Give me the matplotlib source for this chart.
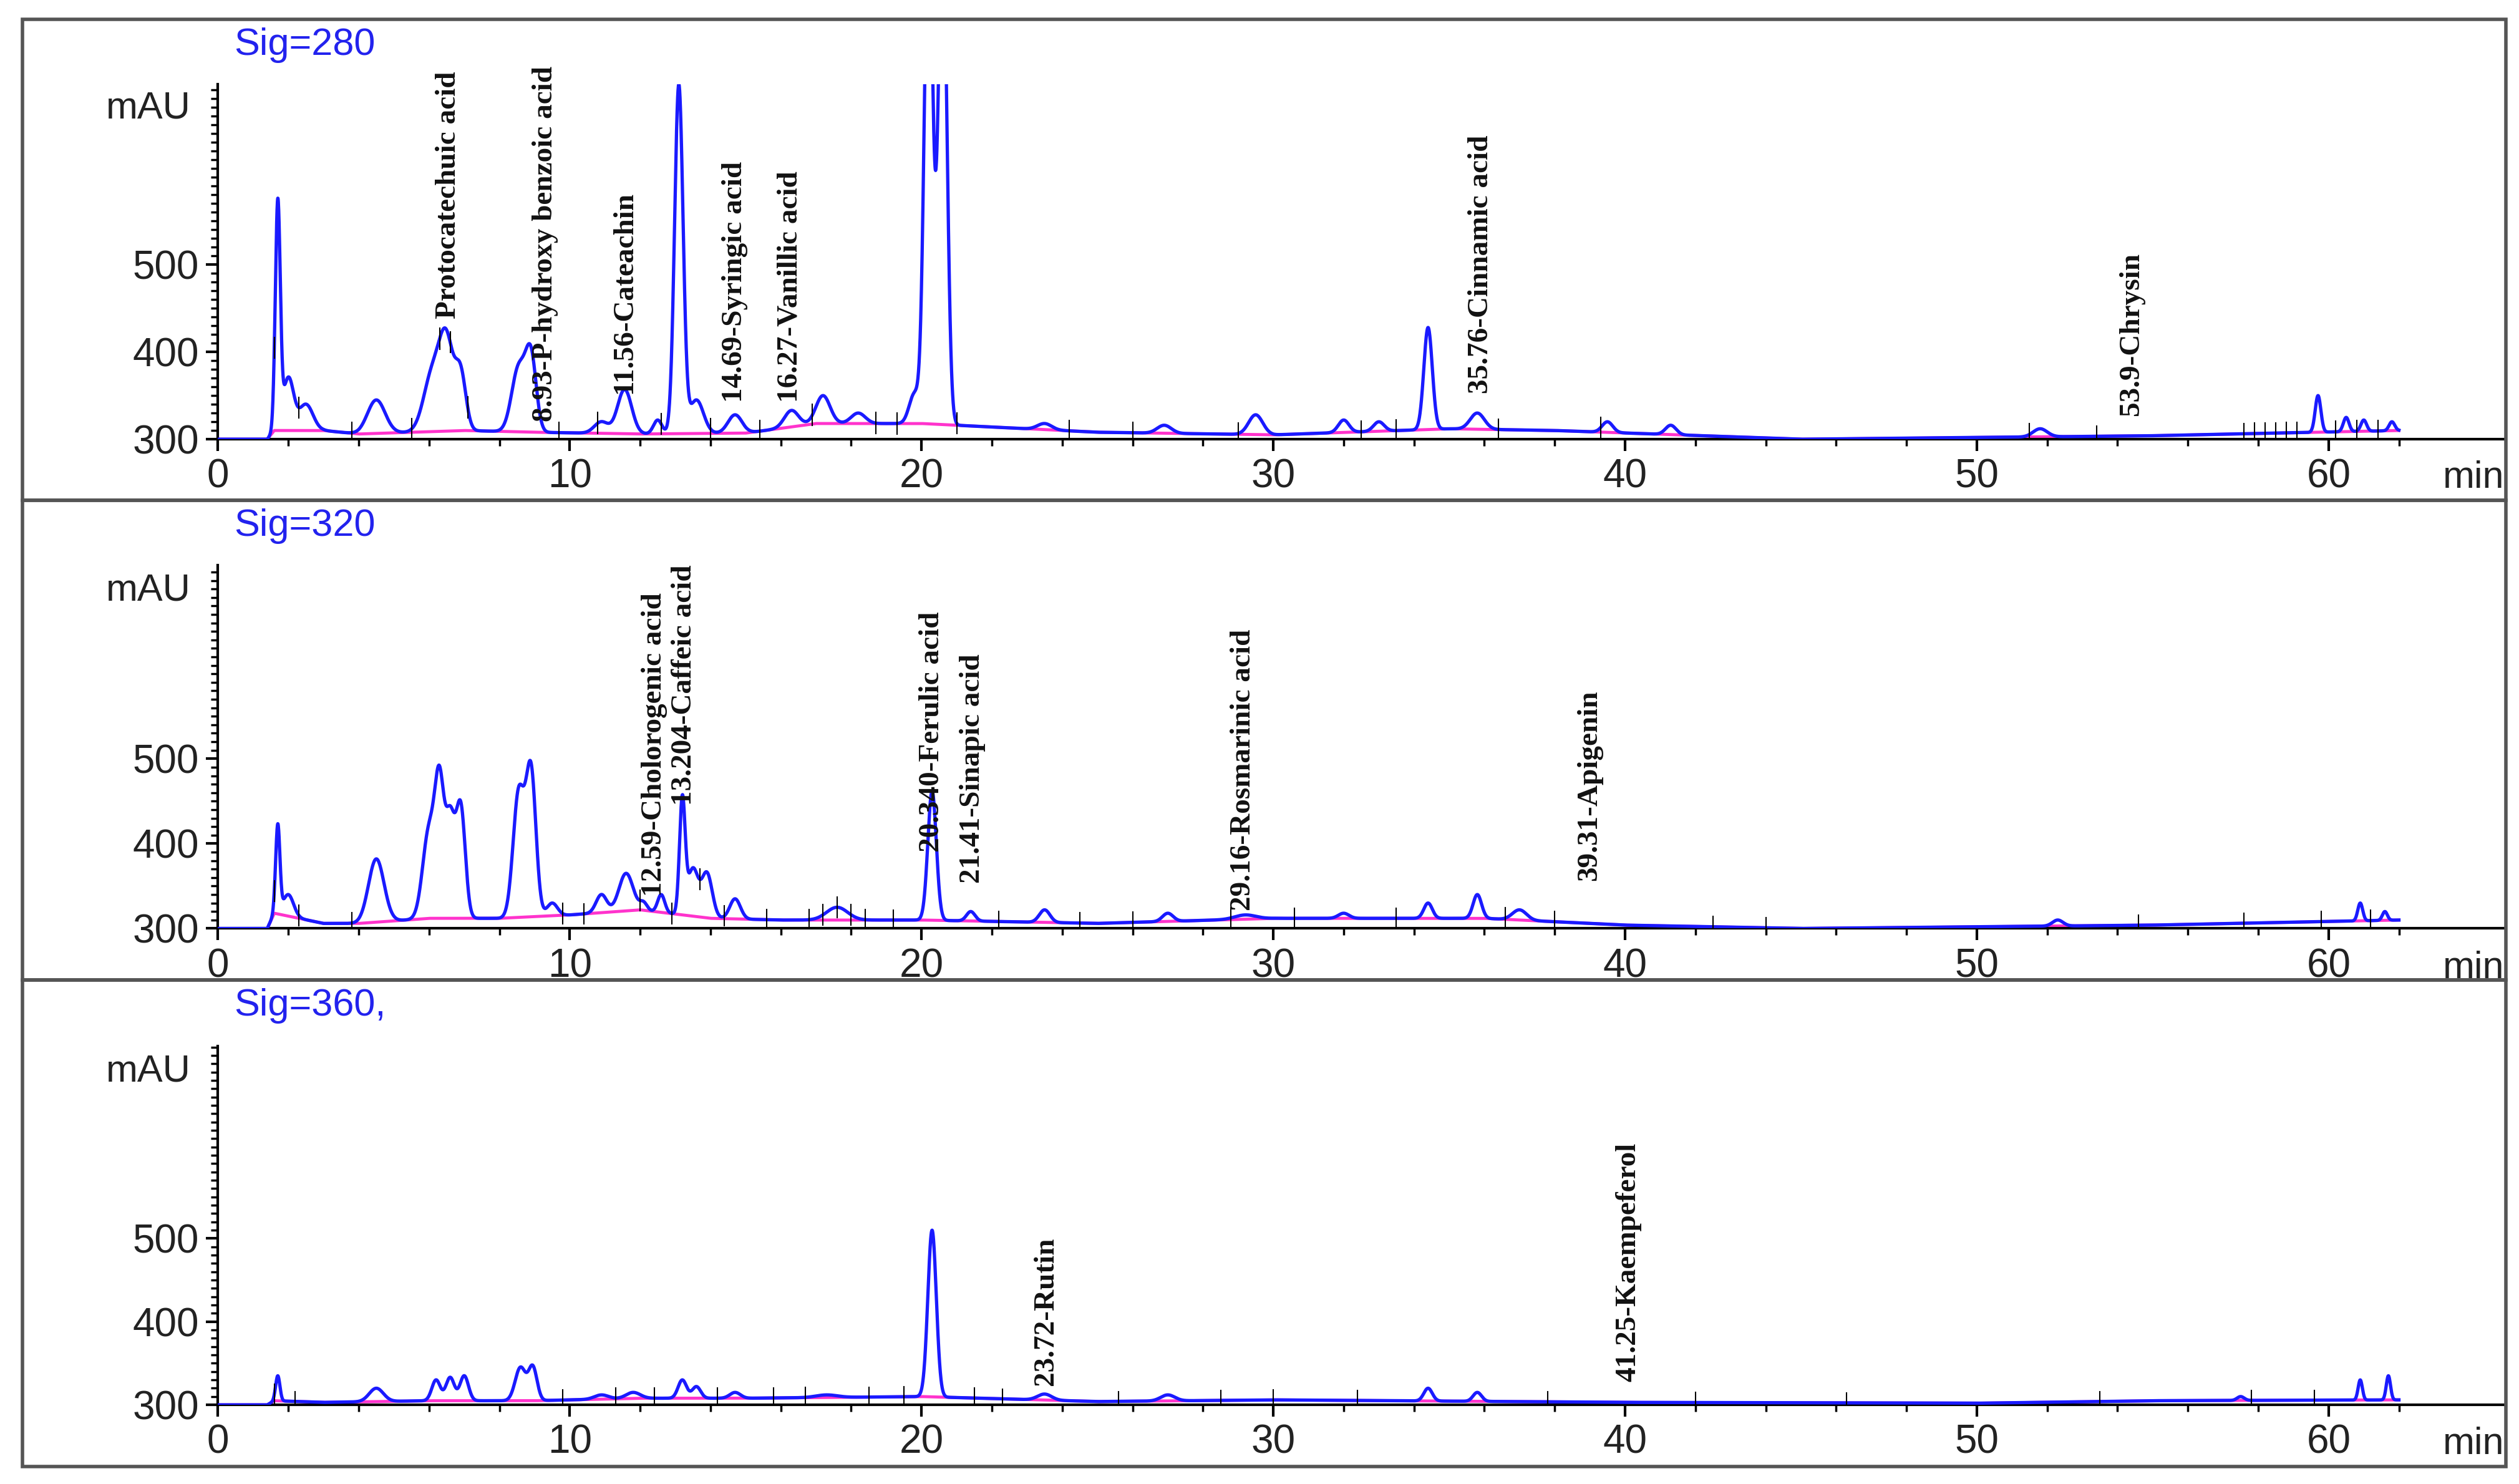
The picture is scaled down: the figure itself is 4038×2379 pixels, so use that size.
import numpy as np
import matplotlib
matplotlib.use("Agg")
import matplotlib.pyplot as plt
from matplotlib.ticker import MultipleLocator, FixedLocator

# ---------------- data ----------------
signals = ["Sig=280", "Sig=320", "Sig=360,"]

# peaks: retention time (min), apex (mAU), width (min)
p1_rt = [1.7, 2.0, 2.5, 4.5, 6.1, 6.5, 6.9, 8.55, 8.9, 10.9, 11.56, 12.5, 13.1, 13.6, 14.7, 16.3, 17.2, 18.2, 19.8, 20.2, 20.6, 23.5, 26.9, 29.5, 32.0, 33.0, 34.4, 35.8, 39.5, 41.3, 51.8, 59.7, 60.5, 61.0, 61.8]
p1_h  = [568, 370, 340, 345, 375, 405, 372, 382, 390, 320, 357, 322, 705, 345, 328, 333, 350, 330, 352, 900, 900, 318, 316, 328, 322, 320, 428, 330, 320, 316, 312, 350, 325, 322, 320]
p1_w  = [0.07, 0.15, 0.2, 0.25, 0.25, 0.2, 0.15, 0.2, 0.15, 0.2, 0.2, 0.12, 0.12, 0.2, 0.2, 0.2, 0.2, 0.2, 0.15, 0.12, 0.12, 0.2, 0.2, 0.2, 0.15, 0.15, 0.12, 0.2, 0.15, 0.15, 0.2, 0.08, 0.08, 0.08, 0.08]
p1_base_t = [0, 1.4, 1.6, 3, 4, 7, 9, 12, 15, 17, 20, 25, 30, 35, 38, 45, 50, 55, 62]
p1_base_v = [300, 300, 310, 310, 306, 310, 308, 306, 307, 318, 318, 308, 305, 312, 310, 300, 302, 304, 310]
p1_marks = [1.6, 2.3, 3.8, 5.5, 6.3, 6.6, 7.1, 9.7, 10.8, 12.6, 14.0, 15.4, 16.9, 18.7, 19.3, 21.0, 24.2, 26.0, 29.0, 32.5, 33.5, 36.4, 39.3, 51.5, 53.4, 57.6, 57.9, 58.2, 58.5, 58.8, 59.1, 60.2, 60.8, 61.4]

p2_rt = [1.7, 2.0, 4.5, 6.0, 6.3, 6.6, 6.9, 8.55, 8.9, 9.5, 10.9, 11.6, 12.1, 12.6, 13.2, 13.5, 13.9, 14.7, 17.6, 20.3, 21.4, 23.5, 27.0, 29.2, 32.0, 34.4, 35.8, 37.0, 52.3, 60.9, 61.6]
p2_h  = [420, 340, 382, 415, 458, 425, 442, 460, 482, 330, 340, 365, 330, 340, 450, 370, 365, 335, 325, 462, 320, 322, 318, 316, 318, 330, 340, 322, 310, 330, 320]
p2_w  = [0.06, 0.15, 0.22, 0.18, 0.13, 0.13, 0.13, 0.16, 0.14, 0.15, 0.15, 0.2, 0.1, 0.1, 0.08, 0.15, 0.15, 0.15, 0.3, 0.12, 0.12, 0.15, 0.15, 0.3, 0.15, 0.12, 0.12, 0.2, 0.15, 0.07, 0.07]
p2_base_t = [0, 1.4, 1.6, 3, 4, 6, 8, 10, 12, 14, 16, 20, 25, 30, 36, 40, 45, 50, 55, 62]
p2_base_v = [300, 300, 318, 306, 306, 312, 312, 316, 322, 312, 310, 310, 306, 312, 312, 304, 300, 302, 304, 310]
p2_marks = [1.6, 2.3, 3.8, 9.8, 10.4, 12.0, 12.9, 13.7, 14.4, 15.6, 16.8, 17.2, 17.6, 18.0, 18.4, 19.2, 22.2, 24.5, 26.0, 28.8, 30.6, 33.5, 36.6, 38.0, 42.5, 44.0, 54.6, 57.6, 59.8, 61.2]

p3_rt = [1.7, 4.5, 6.2, 6.6, 7.0, 8.6, 8.95, 10.9, 11.8, 13.2, 13.6, 14.7, 17.3, 20.3, 23.5, 27.0, 34.4, 35.8, 57.5, 60.9, 61.7]
p3_h  = [335, 320, 330, 333, 335, 345, 345, 312, 315, 330, 322, 315, 312, 510, 313, 312, 320, 315, 310, 330, 335]
p3_w  = [0.06, 0.2, 0.12, 0.12, 0.12, 0.15, 0.12, 0.2, 0.2, 0.12, 0.12, 0.15, 0.3, 0.12, 0.2, 0.2, 0.12, 0.12, 0.1, 0.06, 0.06]
p3_base_t = [0, 1.4, 1.6, 3, 6, 9, 12, 15, 20, 25, 30, 40, 50, 55, 62]
p3_base_v = [300, 300, 305, 303, 305, 305, 308, 308, 310, 304, 306, 303, 302, 305, 306]
p3_marks = [1.6, 2.2, 9.8, 11.3, 12.4, 14.2, 15.8, 16.7, 18.5, 19.5, 21.5, 22.3, 25.6, 28.5, 30.0, 32.4, 37.8, 42.0, 46.3, 53.5, 57.8, 59.6]

# annotation labels: (rt, bottom y mAU, text)
lab1_rt = [6.55, 9.3, 11.56, 14.69, 16.27, 35.9, 54.4]
lab1_y  = [438, 320, 352, 342, 342, 352, 327]
lab1_tx = ["Protocatechuic acid", "8.93-P-hydroxy benzoic acid", "11.56-Cateachin", "14.69-Syringic acid",
           "16.27-Vanillic acid", "35.76-Cinnamic acid", "53.9-Chrysin"]
lab2_rt = [12.4, 13.25, 20.3, 21.45, 29.15, 39.0]
lab2_y  = [338, 445, 390, 353, 321, 356]
lab2_tx = ["12.59-Cholorogenic acid", "13.204-Caffeic acid", "20.340-Ferulic acid", "21.41-Sinapic acid",
           "29.16-Rosmarinic acid", "39.31-Apigenin"]
lab3_rt = [23.55, 40.1]
lab3_y  = [323, 328]
lab3_tx = ["23.72-Rutin", "41.25-Kaempeferol"]

panels = [
    (p1_rt, p1_h, p1_w, p1_base_t, p1_base_v, p1_marks, lab1_rt, lab1_y, lab1_tx),
    (p2_rt, p2_h, p2_w, p2_base_t, p2_base_v, p2_marks, lab2_rt, lab2_y, lab2_tx),
    (p3_rt, p3_h, p3_w, p3_base_t, p3_base_v, p3_marks, lab3_rt, lab3_y, lab3_tx),
]

# ---------------- layout (reference coords in a 1560x919 frame) ----------------
W, H = 1560.0, 919.0
boxes = [(12, 310), (310, 607), (607, 908)]
axes_px = [(52, 272, 707), (350, 575, 728), (648, 870, 731)]  # top px, bottom px, ymax

fig = plt.figure(figsize=(40.38, 23.79), dpi=100)
fig.patch.set_facecolor("white")

for (yt, yb) in boxes:
    fig.add_artist(plt.Rectangle((14 / W, 1 - yb / H), (1552 - 14) / W, (yb - yt) / H,
                                 transform=fig.transFigure, fill=False, lw=4, ec="#555555"))

t = np.linspace(0, 62, 12000)
serif = ["Liberation Serif", "DejaVu Serif"]
sans = ["Liberation Sans", "DejaVu Sans"]

for i, (rt, hh, ww, bt, bv, marks, lrt, ly, ltx) in enumerate(panels):
    top, bot, ymax = axes_px[i]
    ax = fig.add_axes([135 / W, 1 - bot / H, (1551 - 135) / W, (bot - top) / H])
    ax.set_xlim(0, 65)
    ax.set_ylim(300, ymax)
    base = np.interp(t, bt, bv)
    y = base.copy()
    for r, h, w in zip(rt, hh, ww):
        amp = h - np.interp(r, bt, bv)
        y += amp * np.exp(-0.5 * ((t - r) / w) ** 2)
    ax.plot(t, base, color="#ff33cc", lw=3.5, zorder=2)
    ax.plot(t, y, color="#1a1aff", lw=3.8, zorder=3, clip_on=True)
    for m in marks:
        v = np.interp(m, t, y)
        ax.plot([m, m], [v - 12, v + 12], color="black", lw=1.5, zorder=4)
    for r, yy, tx in zip(lrt, ly, ltx):
        ax.text(r, yy, tx, rotation=90, ha="center", va="bottom", fontsize=34,
                fontweight="bold", family=serif, color="#111111", zorder=5)
    for s in ["top", "right"]:
        ax.spines[s].set_visible(False)
    ax.spines["left"].set_linewidth(3)
    ax.spines["bottom"].set_linewidth(3)
    ax.xaxis.set_major_locator(FixedLocator([0, 10, 20, 30, 40, 50, 60]))
    ax.xaxis.set_minor_locator(FixedLocator(np.arange(0, 63, 2)))
    ax.yaxis.set_major_locator(FixedLocator([300, 400, 500]))
    ax.yaxis.set_minor_locator(MultipleLocator(10))
    ax.tick_params(axis="both", which="major", labelsize=46, length=14, width=3, pad=8)
    ax.tick_params(axis="both", which="minor", length=8, width=2.5)
    for lab in ax.get_xticklabels() + ax.get_yticklabels():
        lab.set_family(sans)
        lab.set_color("#222222")
    ax.text(-0.012, 0.93, "mAU", transform=ax.transAxes, ha="right", va="center",
            fontsize=44, family=sans, color="#222222")
    ax.text(1.0, -0.11, "min", transform=ax.transAxes, ha="right", va="center",
            fontsize=44, family=sans, color="#222222", clip_on=False)
    ax.text(0.007, (top - boxes[i][0] - 16) / (bot - top) + 1.0, signals[i], transform=ax.transAxes,
            ha="left", va="center", fontsize=44, family=sans, color="#2222ee")

fig.savefig("out.png", dpi=100)
